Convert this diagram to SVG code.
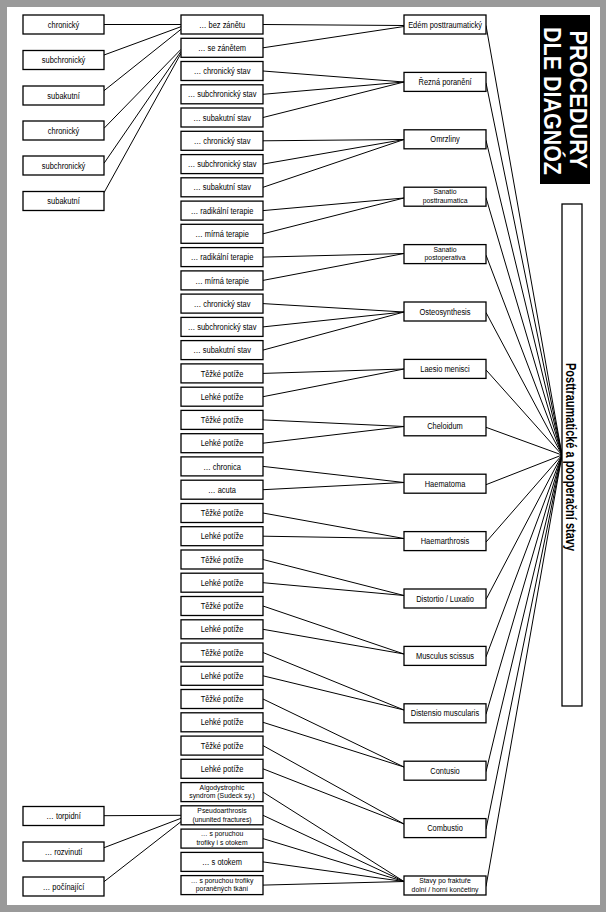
<svg xmlns="http://www.w3.org/2000/svg" width="606" height="912" viewBox="0 0 606 912">
<style>
.b{fill:#fff;stroke:#000;stroke-width:1.3}
.t{font-family:"Liberation Sans",Arial,sans-serif;font-size:9px;text-anchor:middle;fill:#000;transform-box:fill-box;transform-origin:center;transform:scaleX(.83)}
.t2{font-family:"Liberation Sans",Arial,sans-serif;font-size:7.6px;text-anchor:middle;fill:#000;transform-box:fill-box;transform-origin:center;transform:scaleX(.9)}
.c line{stroke:#000;stroke-width:1}
.ti{font-family:"Liberation Sans",Arial,sans-serif;font-weight:bold;font-size:23px;fill:#fff;text-anchor:middle}
.vt{font-family:"Liberation Sans",Arial,sans-serif;font-weight:bold;font-size:14px;fill:#000;text-anchor:middle}
</style>
<rect x="0" y="0" width="606" height="912" fill="#9a9a9a"/>
<rect x="7" y="7" width="593" height="898" fill="#fff"/>

<g id="connectors" class="c">
<line x1="104" y1="24.5" x2="181" y2="24.5"/>
<line x1="104" y1="55" x2="181" y2="26.7"/>
<line x1="104" y1="90.7" x2="181" y2="29.3"/>
<line x1="104" y1="128.3" x2="181" y2="49.3"/>
<line x1="104" y1="163.3" x2="181" y2="51.3"/>
<line x1="104" y1="192.7" x2="181" y2="53.3"/>
<line x1="104" y1="815.7" x2="181" y2="815.3"/>
<line x1="104" y1="847.7" x2="181" y2="818.3"/>
<line x1="104" y1="881.7" x2="181" y2="821.7"/>
<line x1="263" y1="24.5" x2="404" y2="25.5"/>
<line x1="263" y1="47.8" x2="404" y2="26.5"/>
<line x1="263" y1="71" x2="404" y2="82"/>
<line x1="263" y1="94.3" x2="404" y2="82"/>
<line x1="263" y1="117.5" x2="404" y2="82"/>
<line x1="263" y1="140.8" x2="404" y2="139.5"/>
<line x1="263" y1="164.1" x2="404" y2="139.5"/>
<line x1="263" y1="187.3" x2="404" y2="139.5"/>
<line x1="263" y1="210.6" x2="404" y2="198"/>
<line x1="263" y1="233.8" x2="404" y2="198"/>
<line x1="263" y1="257.1" x2="404" y2="253.5"/>
<line x1="263" y1="280.4" x2="404" y2="253.5"/>
<line x1="263" y1="303.6" x2="404" y2="312"/>
<line x1="263" y1="326.9" x2="404" y2="312"/>
<line x1="263" y1="350.1" x2="404" y2="312"/>
<line x1="263" y1="373.4" x2="404" y2="369"/>
<line x1="263" y1="396.7" x2="404" y2="369"/>
<line x1="263" y1="419.9" x2="404" y2="426.5"/>
<line x1="263" y1="443.2" x2="404" y2="426.5"/>
<line x1="263" y1="466.4" x2="404" y2="482.5"/>
<line x1="263" y1="489.7" x2="404" y2="482.5"/>
<line x1="263" y1="513" x2="404" y2="538.5"/>
<line x1="263" y1="536.2" x2="404" y2="538.5"/>
<line x1="263" y1="559.5" x2="404" y2="595.5"/>
<line x1="263" y1="582.7" x2="404" y2="595.5"/>
<line x1="263" y1="606" x2="404" y2="654"/>
<line x1="263" y1="629.3" x2="404" y2="654"/>
<line x1="263" y1="652.5" x2="404" y2="710"/>
<line x1="263" y1="675.8" x2="404" y2="710"/>
<line x1="263" y1="699" x2="404" y2="767"/>
<line x1="263" y1="722.3" x2="404" y2="767"/>
<line x1="263" y1="745.6" x2="404" y2="824"/>
<line x1="263" y1="768.8" x2="404" y2="824"/>
<line x1="263" y1="792.1" x2="404" y2="881.5"/>
<line x1="263" y1="815.3" x2="404" y2="881.5"/>
<line x1="263" y1="838.6" x2="404" y2="881.5"/>
<line x1="263" y1="861.9" x2="404" y2="881.5"/>
<line x1="263" y1="885.1" x2="404" y2="881.5"/>
<line x1="486" y1="25.5" x2="562" y2="455"/>
<line x1="486" y1="82.9" x2="562" y2="455"/>
<line x1="486" y1="140.3" x2="562" y2="455"/>
<line x1="486" y1="197.7" x2="562" y2="455"/>
<line x1="486" y1="255.1" x2="562" y2="455"/>
<line x1="486" y1="312.5" x2="562" y2="455"/>
<line x1="486" y1="369.9" x2="562" y2="455"/>
<line x1="486" y1="427.3" x2="562" y2="455"/>
<line x1="486" y1="484.7" x2="562" y2="455"/>
<line x1="486" y1="542.1" x2="562" y2="455"/>
<line x1="486" y1="599.5" x2="562" y2="455"/>
<line x1="486" y1="656.9" x2="562" y2="455"/>
<line x1="486" y1="714.3" x2="562" y2="455"/>
<line x1="486" y1="771.7" x2="562" y2="455"/>
<line x1="486" y1="829.1" x2="562" y2="455"/>
<line x1="486" y1="886.5" x2="562" y2="455"/>
</g>

<g id="title"><rect x="540" y="15" width="50" height="169" fill="#000"/>
<text class="ti" transform="translate(569.5,99.5) rotate(90)" textLength="138" lengthAdjust="spacingAndGlyphs">PROCEDURY</text>
<text class="ti" transform="translate(543.5,101) rotate(90)" textLength="148" lengthAdjust="spacingAndGlyphs">DLE DIAGNÓZ</text></g>
<g id="main"><rect class="b" x="562" y="204" width="20" height="502"/>
<text class="vt" transform="translate(566,457) rotate(90)" textLength="188" lengthAdjust="spacingAndGlyphs">Posttraumatické a pooperační stavy</text></g>

<g id="l1"><rect class="b" x="23" y="15" width="81" height="19"/><text class="t" x="63.5" y="27.7">chronický</text></g>
<g id="l2"><rect class="b" x="23" y="50.5" width="81" height="19"/><text class="t" x="63.5" y="63.2">subchronický</text></g>
<g id="l3"><rect class="b" x="23" y="86" width="81" height="19"/><text class="t" x="63.5" y="98.7">subakutní</text></g>
<g id="l4"><rect class="b" x="23" y="121" width="81" height="19"/><text class="t" x="63.5" y="133.7">chronický</text></g>
<g id="l5"><rect class="b" x="23" y="156" width="81" height="19"/><text class="t" x="63.5" y="168.7">subchronický</text></g>
<g id="l6"><rect class="b" x="23" y="191.5" width="81" height="19"/><text class="t" x="63.5" y="204.2">subakutní</text></g>
<g id="l7"><rect class="b" x="23" y="806.5" width="81" height="19"/><text class="t" x="63.5" y="819.2">… torpidní</text></g>
<g id="l8"><rect class="b" x="23" y="842" width="81" height="19"/><text class="t" x="63.5" y="854.7">… rozvinutí</text></g>
<g id="l9"><rect class="b" x="23" y="877" width="81" height="19"/><text class="t" x="63.5" y="889.7">… počínající</text></g>

<g id="m1"><rect class="b" x="181" y="15" width="82" height="19"/><text class="t" x="222" y="27.7">… bez zánětu</text></g>
<g id="m2"><rect class="b" x="181" y="38.3" width="82" height="19"/><text class="t" x="222" y="51">… se zánětem</text></g>
<g id="m3"><rect class="b" x="181" y="61.5" width="82" height="19"/><text class="t" x="222" y="74.2">… chronický stav</text></g>
<g id="m4"><rect class="b" x="181" y="84.8" width="82" height="19"/><text class="t" x="222" y="97.5">… subchronický stav</text></g>
<g id="m5"><rect class="b" x="181" y="108" width="82" height="19"/><text class="t" x="222" y="120.7">… subakutní stav</text></g>
<g id="m6"><rect class="b" x="181" y="131.3" width="82" height="19"/><text class="t" x="222" y="144">… chronický stav</text></g>
<g id="m7"><rect class="b" x="181" y="154.6" width="82" height="19"/><text class="t" x="222" y="167.3">… subchronický stav</text></g>
<g id="m8"><rect class="b" x="181" y="177.8" width="82" height="19"/><text class="t" x="222" y="190.5">… subakutní stav</text></g>
<g id="m9"><rect class="b" x="181" y="201.1" width="82" height="19"/><text class="t" x="222" y="213.8">… radikální terapie</text></g>
<g id="m10"><rect class="b" x="181" y="224.3" width="82" height="19"/><text class="t" x="222" y="237">… mírná terapie</text></g>
<g id="m11"><rect class="b" x="181" y="247.6" width="82" height="19"/><text class="t" x="222" y="260.3">… radikální terapie</text></g>
<g id="m12"><rect class="b" x="181" y="270.9" width="82" height="19"/><text class="t" x="222" y="283.6">… mírná terapie</text></g>
<g id="m13"><rect class="b" x="181" y="294.1" width="82" height="19"/><text class="t" x="222" y="306.8">… chronický stav</text></g>
<g id="m14"><rect class="b" x="181" y="317.4" width="82" height="19"/><text class="t" x="222" y="330.1">… subchronický stav</text></g>
<g id="m15"><rect class="b" x="181" y="340.6" width="82" height="19"/><text class="t" x="222" y="353.3">… subakutní stav</text></g>
<g id="m16"><rect class="b" x="181" y="363.9" width="82" height="19"/><text class="t" x="222" y="376.6">Těžké potíže</text></g>
<g id="m17"><rect class="b" x="181" y="387.2" width="82" height="19"/><text class="t" x="222" y="399.9">Lehké potíže</text></g>
<g id="m18"><rect class="b" x="181" y="410.4" width="82" height="19"/><text class="t" x="222" y="423.1">Těžké potíže</text></g>
<g id="m19"><rect class="b" x="181" y="433.7" width="82" height="19"/><text class="t" x="222" y="446.4">Lehké potíže</text></g>
<g id="m20"><rect class="b" x="181" y="456.9" width="82" height="19"/><text class="t" x="222" y="469.6">… chronica</text></g>
<g id="m21"><rect class="b" x="181" y="480.2" width="82" height="19"/><text class="t" x="222" y="492.9">… acuta</text></g>
<g id="m22"><rect class="b" x="181" y="503.5" width="82" height="19"/><text class="t" x="222" y="516.2">Těžké potíže</text></g>
<g id="m23"><rect class="b" x="181" y="526.7" width="82" height="19"/><text class="t" x="222" y="539.4">Lehké potíže</text></g>
<g id="m24"><rect class="b" x="181" y="550" width="82" height="19"/><text class="t" x="222" y="562.7">Těžké potíže</text></g>
<g id="m25"><rect class="b" x="181" y="573.2" width="82" height="19"/><text class="t" x="222" y="585.9">Lehké potíže</text></g>
<g id="m26"><rect class="b" x="181" y="596.5" width="82" height="19"/><text class="t" x="222" y="609.2">Těžké potíže</text></g>
<g id="m27"><rect class="b" x="181" y="619.8" width="82" height="19"/><text class="t" x="222" y="632.5">Lehké potíže</text></g>
<g id="m28"><rect class="b" x="181" y="643" width="82" height="19"/><text class="t" x="222" y="655.7">Těžké potíže</text></g>
<g id="m29"><rect class="b" x="181" y="666.3" width="82" height="19"/><text class="t" x="222" y="679">Lehké potíže</text></g>
<g id="m30"><rect class="b" x="181" y="689.5" width="82" height="19"/><text class="t" x="222" y="702.2">Těžké potíže</text></g>
<g id="m31"><rect class="b" x="181" y="712.8" width="82" height="19"/><text class="t" x="222" y="725.5">Lehké potíže</text></g>
<g id="m32"><rect class="b" x="181" y="736.1" width="82" height="19"/><text class="t" x="222" y="748.8">Těžké potíže</text></g>
<g id="m33"><rect class="b" x="181" y="759.3" width="82" height="19"/><text class="t" x="222" y="772">Lehké potíže</text></g>
<g id="m34"><rect class="b" x="181" y="782.6" width="82" height="19"/><text class="t2" x="222" y="789.9">Algodystrophic</text><text class="t2" x="222" y="798.4">syndrom (Sudeck sy.)</text></g>
<g id="m35"><rect class="b" x="181" y="805.8" width="82" height="19"/><text class="t2" x="222" y="813.1">Pseudoarthrosis</text><text class="t2" x="222" y="821.6">(ununited fractures)</text></g>
<g id="m36"><rect class="b" x="181" y="829.1" width="82" height="19"/><text class="t2" x="222" y="836.4">… s poruchou</text><text class="t2" x="222" y="844.9">trofiky i s otokem</text></g>
<g id="m37"><rect class="b" x="181" y="852.4" width="82" height="19"/><text class="t" x="222" y="865.1">… s otokem</text></g>
<g id="m38"><rect class="b" x="181" y="875.6" width="82" height="19"/><text class="t2" x="222" y="882.9">… s poruchou trofiky</text><text class="t2" x="222" y="891.4">poraněných tkání</text></g>

<g id="r1"><rect class="b" x="404" y="15" width="82" height="19"/><text class="t" x="445" y="27.7">Edém posttraumatický</text></g>
<g id="r2"><rect class="b" x="404" y="72.4" width="82" height="19"/><text class="t" x="445" y="85.1">Řezná poranění</text></g>
<g id="r3"><rect class="b" x="404" y="129.8" width="82" height="19"/><text class="t" x="445" y="142.5">Omrzliny</text></g>
<g id="r4"><rect class="b" x="404" y="187.2" width="82" height="19"/><text class="t2" x="445" y="194.5">Sanatio</text><text class="t2" x="445" y="203">posttraumatica</text></g>
<g id="r5"><rect class="b" x="404" y="244.6" width="82" height="19"/><text class="t2" x="445" y="251.9">Sanatio</text><text class="t2" x="445" y="260.4">postoperativa</text></g>
<g id="r6"><rect class="b" x="404" y="302" width="82" height="19"/><text class="t" x="445" y="314.7">Osteosynthesis</text></g>
<g id="r7"><rect class="b" x="404" y="359.4" width="82" height="19"/><text class="t" x="445" y="372.1">Laesio menisci</text></g>
<g id="r8"><rect class="b" x="404" y="416.8" width="82" height="19"/><text class="t" x="445" y="429.5">Cheloidum</text></g>
<g id="r9"><rect class="b" x="404" y="474.2" width="82" height="19"/><text class="t" x="445" y="486.9">Haematoma</text></g>
<g id="r10"><rect class="b" x="404" y="531.6" width="82" height="19"/><text class="t" x="445" y="544.3">Haemarthrosis</text></g>
<g id="r11"><rect class="b" x="404" y="589" width="82" height="19"/><text class="t" x="445" y="601.7">Distortio / Luxatio</text></g>
<g id="r12"><rect class="b" x="404" y="646.4" width="82" height="19"/><text class="t" x="445" y="659.1">Musculus scissus</text></g>
<g id="r13"><rect class="b" x="404" y="703.8" width="82" height="19"/><text class="t" x="445" y="716.5">Distensio muscularis</text></g>
<g id="r14"><rect class="b" x="404" y="761.2" width="82" height="19"/><text class="t" x="445" y="773.9">Contusio</text></g>
<g id="r15"><rect class="b" x="404" y="818.6" width="82" height="19"/><text class="t" x="445" y="831.3">Combustio</text></g>
<g id="r16"><rect class="b" x="404" y="876" width="82" height="19"/><text class="t2" x="445" y="883.3">Stavy po fraktuře</text><text class="t2" x="445" y="891.8">dolní / horní končetiny</text></g>
</svg>
